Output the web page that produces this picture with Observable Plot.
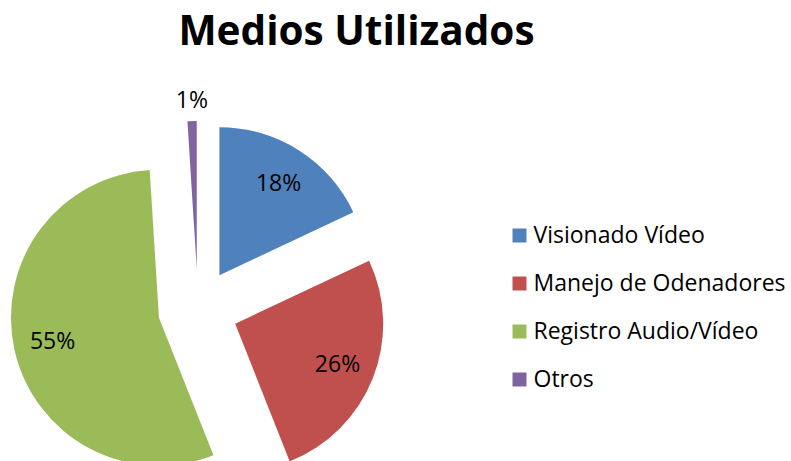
<!DOCTYPE html>
<html>
<head>
<meta charset="utf-8">
<script src="https://cdn.jsdelivr.net/npm/d3@7"></script>
<script src="https://cdn.jsdelivr.net/npm/@observablehq/plot@0.6"></script>
<style>
  html, body { margin: 0; padding: 0; background: #ffffff; }
</style>
</head>
<body>
<div id="chart"></div>
<script>
const title = "Medios Utilizados";
const categories = ["Visionado Vídeo", "Manejo de Odenadores", "Registro Audio/Vídeo", "Otros"];
const values = [18, 26, 55, 1];
const colors = ["#4F81BD", "#C0504D", "#9BBB59", "#8064A2"];

const W = 791, H = 461;
const layout = {cx: 198, cy: 309, r: 148, explode: 40, labelIn: 0.74, labelOut: 1.14};

const total = d3.sum(values);
const arcs = d3.pie().sort(null).value(d => d.value)(
  categories.map((c, i) => ({category: c, value: values[i]}))
);
const slices = arcs.map((a, i) => {
  const mid = (a.startAngle + a.endAngle) / 2;
  const ox = layout.cx + layout.explode * Math.sin(mid);
  const oy = layout.cy - layout.explode * Math.cos(mid);
  const frac = a.data.value / total;
  const lr = layout.r * (frac < 0.05 ? layout.labelOut : layout.labelIn);
  return {
    category: a.data.category,
    value: a.data.value,
    startAngle: a.startAngle,
    endAngle: a.endAngle,
    ox, oy,
    lx: ox + lr * Math.sin(mid),
    ly: oy - lr * Math.cos(mid),
    label: Math.round(frac * 100) + "%"
  };
});
const legend = categories.map((c, i) => ({category: c, y: 235 + i * 48}));

function pieMark(index, scales, values, dimensions, context) {
  const color = scales.color || d3.scaleOrdinal(categories, colors);
  const g = d3.create("svg:g");
  const rpx = Math.abs(scales.x(layout.r) - scales.x(0));
  const arc = d3.arc().innerRadius(0).outerRadius(rpx);
  for (const s of slices) {
    g.append("path")
      .attr("d", arc({startAngle: s.startAngle, endAngle: s.endAngle}))
      .attr("transform", `translate(${scales.x(s.ox)},${scales.y(s.oy)})`)
      .attr("fill", color(s.category));
  }
  return g.node();
}

const chart = Plot.plot({
  width: W,
  height: H,
  margin: 0,
  style: {fontFamily: "'Open Sans', sans-serif", background: "#ffffff", color: "#000"},
  x: {domain: [0, W], range: [0, W], axis: null},
  y: {domain: [0, H], range: [0, H], axis: null},
  color: {domain: categories, range: colors},
  marks: [
    pieMark,
    Plot.text(slices, {x: "lx", y: "ly", text: "label", fontSize: 23, fill: "#000"}),
    Plot.text([title], {x: 356, y: 32, text: d => d, fontSize: 40.5, fontWeight: "bold", fill: "#000"}),
    Plot.dot(legend, {x: 519, y: "y", symbol: "square", r: 7.9, fill: "category"}),
    Plot.text(legend, {x: 533, y: "y", text: "category", textAnchor: "start", fontSize: 23, fill: "#000"})
  ]
});
document.getElementById("chart").appendChild(chart);
</script>
</body>
</html>
